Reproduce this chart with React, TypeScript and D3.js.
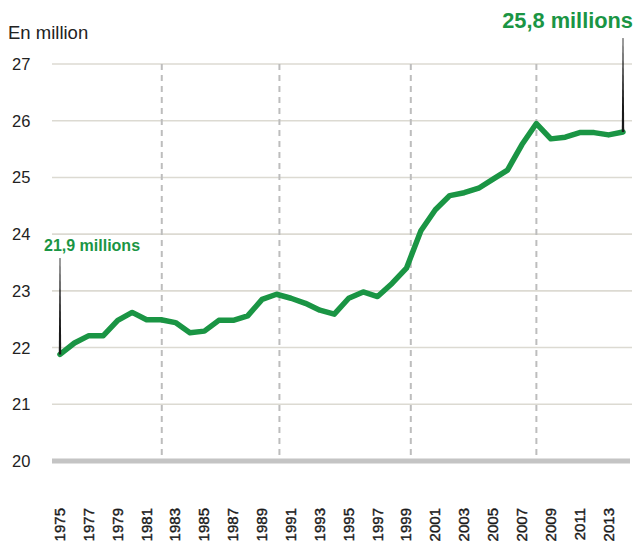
import React from "react";
import * as d3 from "d3";

const years = d3.range(1975, 2015);
const values = [
  21.88, 22.08, 22.21, 22.21, 22.48, 22.62, 22.49, 22.49, 22.44, 22.26,
  22.29, 22.48, 22.48, 22.56, 22.85, 22.94, 22.87, 22.78, 22.66, 22.59,
  22.87, 22.98, 22.9, 23.13, 23.4, 24.06, 24.43, 24.68, 24.73, 24.81,
  24.97, 25.13, 25.58, 25.95, 25.68, 25.71, 25.79, 25.79, 25.75, 25.8,
];
const yTicks = [20, 21, 22, 23, 24, 25, 26, 27];
const xTickLabels = d3.range(1975, 2014, 2);
const dashedYears = [1982.05, 1990.2, 1999.3, 2008];
const annotations = [
  { year: 1975, value: 21.88, text: "21,9 millions" },
  { year: 2014, value: 25.8, text: "25,8 millions" },
];

const W = 635;
const H = 545;
const GREEN = "#1a9544";

export default function App() {
  const x = d3.scaleLinear().domain([1975, 2014]).range([60, 623]);
  const y = d3.scaleLinear().domain([20, 27]).range([461, 64]);
  const line = d3
    .line<number>()
    .x((_, i) => x(years[i]))
    .y((d) => y(d))
    .curve(d3.curveLinear);

  const markerTop = [258, 38];

  return (
    <svg
      width={W}
      height={H}
      style={{ position: "absolute", left: 0, top: 0, fontFamily: "'Liberation Sans', Arial, sans-serif" }}
    >
      <rect width={W} height={H} fill="#fff" />
      <text x={8} y={39} fontSize={18.5} fill="#222">
        En million
      </text>
      {yTicks.map((t) => (
        <g key={t}>
          {t !== 20 && (
            <line x1={52} x2={632} y1={y(t)} y2={y(t)} stroke="#dcdad2" strokeWidth={1.6} />
          )}
          <text x={12} y={y(t) + 6} fontSize={16.5} fill="#222">
            {t}
          </text>
        </g>
      ))}
      {dashedYears.map((yr) => (
        <line
          key={yr}
          x1={x(yr)}
          x2={x(yr)}
          y1={y(27)}
          y2={y(20)}
          stroke="#bdbdbd"
          strokeWidth={2}
          strokeDasharray="6,5"
        />
      ))}
      <line x1={52} x2={630} y1={y(20)} y2={y(20)} stroke="#c4c4c4" strokeWidth={5} />
      <path d={line(values) || ""} fill="none" stroke={GREEN} strokeWidth={5.5} strokeLinejoin="round" strokeLinecap="round" />
      {annotations.map((a, i) => {
        const px = x(a.year);
        const py = y(a.value);
        const top = markerTop[i];
        return (
          <g key={a.text}>
            <polygon
              points={`${px - 0.4},${top} ${px + 0.4},${top} ${px + 1.2},${py} ${px - 1.2},${py}`}
              fill="#1a1a1a"
            />
            {i === 0 ? (
              <text x={44} y={251} fontSize={16} fontWeight="bold" fill={GREEN}>
                {a.text}
              </text>
            ) : (
              <text x={633} y={28} fontSize={21.8} fontWeight="bold" fill={GREEN} textAnchor="end">
                {a.text}
              </text>
            )}
          </g>
        );
      })}
      {xTickLabels.map((yr) => (
        <text
          key={yr}
          transform={`translate(${x(yr) + 5},508) rotate(-90)`}
          textAnchor="end"
          fontSize={15}
          fill="#1a1a1a"
          stroke="#1a1a1a"
          strokeWidth={0.4}
        >
          {yr}
        </text>
      ))}
    </svg>
  );
}
